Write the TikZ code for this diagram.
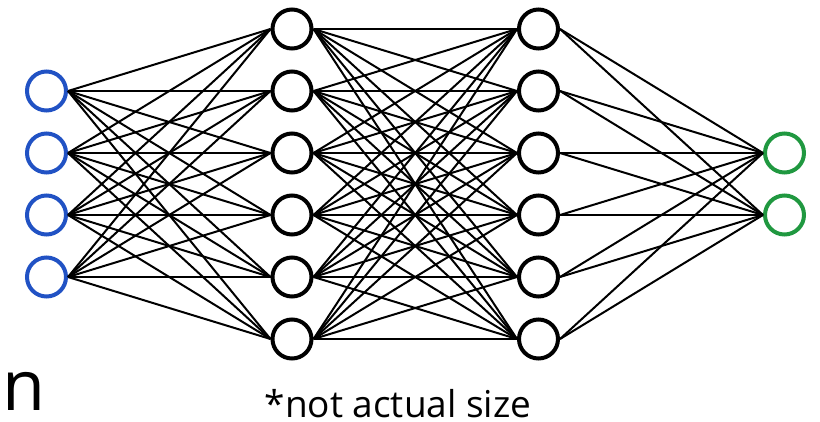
\documentclass[tikz,border=0pt]{standalone}
\usepackage{fontspec}
\setmainfont{Open Sans}
\definecolor{inblue}{RGB}{33,82,196}
\definecolor{outgreen}{RGB}{32,152,64}

\begin{document}
\begin{tikzpicture}[x=1pt,y=-1pt,
  neuron/.style={circle,draw,line width=4pt,minimum size=39pt,inner sep=0pt},
  link/.style={line width=2pt}]
  \useasboundingbox (0,0) rectangle (820,421);
  \foreach \k in {1,...,4} \node[neuron,draw=inblue] (i\k) at (46.5,{184+62*(\k-2.5)}) {};
  \foreach \k in {1,...,6} {
    \node[neuron] (h\k) at (292,{184+62*(\k-3.5)}) {};
    \node[neuron] (g\k) at (538.5,{184+62*(\k-3.5)}) {};
  }
  \foreach \k in {1,2} \node[neuron,draw=outgreen] (o\k) at (784.5,{184+62*(\k-1.5)}) {};
  \foreach \a in {1,...,4} \foreach \b in {1,...,6} \draw[link] (i\a.east) -- (h\b.west);
  \foreach \a in {1,...,6} \foreach \b in {1,...,6} \draw[link] (h\a.east) -- (g\b.west);
  \foreach \a in {1,...,6} \foreach \b in {1,2} \draw[link] (g\a.east) -- (o\b.west);
  \node[font=\fontsize{70}{74}\selectfont,anchor=base west,inner sep=0pt] (cut) at (2,410) {n};
  \node[font=\fontsize{37}{41}\selectfont,anchor=base,inner sep=0pt] (note) at (398,417) {*not actual size};
\end{tikzpicture}
\end{document}
